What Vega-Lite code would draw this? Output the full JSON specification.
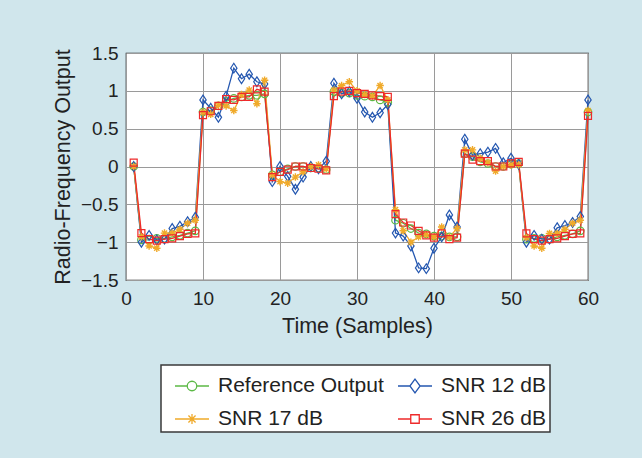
{
  "$schema": "https://vega.github.io/schema/vega-lite/v6.json",
  "width": 462,
  "height": 227,
  "autosize": "none",
  "padding": {"left": 126, "top": 53, "right": 54, "bottom": 178},
  "background": "#d0e6ec",
  "config": {
    "view": {"fill": "white", "stroke": "#1a1a1a", "strokeWidth": 1.2},
    "font": "Liberation Sans"
  },
  "data": {"values": [
    {"t":1,"s":"Reference Output","v":0.00},{"t":2,"s":"Reference Output","v":-0.97},{"t":3,"s":"Reference Output","v":-0.97},{"t":4,"s":"Reference Output","v":-0.95},{"t":5,"s":"Reference Output","v":-0.95},{"t":6,"s":"Reference Output","v":-0.93},{"t":7,"s":"Reference Output","v":-0.91},{"t":8,"s":"Reference Output","v":-0.88},{"t":9,"s":"Reference Output","v":-0.85},{"t":10,"s":"Reference Output","v":0.72},
    {"t":11,"s":"Reference Output","v":0.74},{"t":12,"s":"Reference Output","v":0.80},{"t":13,"s":"Reference Output","v":0.86},{"t":14,"s":"Reference Output","v":0.90},{"t":15,"s":"Reference Output","v":0.92},{"t":16,"s":"Reference Output","v":0.94},{"t":17,"s":"Reference Output","v":0.94},{"t":18,"s":"Reference Output","v":0.96},{"t":19,"s":"Reference Output","v":-0.11},{"t":20,"s":"Reference Output","v":-0.07},
    {"t":21,"s":"Reference Output","v":-0.03},{"t":22,"s":"Reference Output","v":0.00},{"t":23,"s":"Reference Output","v":0.00},{"t":24,"s":"Reference Output","v":-0.02},{"t":25,"s":"Reference Output","v":-0.02},{"t":26,"s":"Reference Output","v":-0.04},{"t":27,"s":"Reference Output","v":0.99},{"t":28,"s":"Reference Output","v":0.97},{"t":29,"s":"Reference Output","v":0.97},{"t":30,"s":"Reference Output","v":0.94},
    {"t":31,"s":"Reference Output","v":0.93},{"t":32,"s":"Reference Output","v":0.92},{"t":33,"s":"Reference Output","v":0.88},{"t":34,"s":"Reference Output","v":0.85},{"t":35,"s":"Reference Output","v":-0.71},{"t":36,"s":"Reference Output","v":-0.75},{"t":37,"s":"Reference Output","v":-0.82},{"t":38,"s":"Reference Output","v":-0.88},{"t":39,"s":"Reference Output","v":-0.89},{"t":40,"s":"Reference Output","v":-0.92},
    {"t":41,"s":"Reference Output","v":-0.92},{"t":42,"s":"Reference Output","v":-0.93},{"t":43,"s":"Reference Output","v":-0.93},{"t":44,"s":"Reference Output","v":0.17},{"t":45,"s":"Reference Output","v":0.13},{"t":46,"s":"Reference Output","v":0.06},{"t":47,"s":"Reference Output","v":0.04},{"t":48,"s":"Reference Output","v":0.00},{"t":49,"s":"Reference Output","v":0.00},{"t":50,"s":"Reference Output","v":0.03},
    {"t":51,"s":"Reference Output","v":0.04},{"t":52,"s":"Reference Output","v":-0.96},{"t":53,"s":"Reference Output","v":-0.95},{"t":54,"s":"Reference Output","v":-0.95},{"t":55,"s":"Reference Output","v":-0.96},{"t":56,"s":"Reference Output","v":-0.93},{"t":57,"s":"Reference Output","v":-0.91},{"t":58,"s":"Reference Output","v":-0.89},{"t":59,"s":"Reference Output","v":-0.85},{"t":60,"s":"Reference Output","v":0.72},

    {"t":1,"s":"SNR 12 dB","v":0.00},{"t":2,"s":"SNR 12 dB","v":-1.00},{"t":3,"s":"SNR 12 dB","v":-0.91},{"t":4,"s":"SNR 12 dB","v":-0.97},{"t":5,"s":"SNR 12 dB","v":-0.96},{"t":6,"s":"SNR 12 dB","v":-0.82},{"t":7,"s":"SNR 12 dB","v":-0.79},{"t":8,"s":"SNR 12 dB","v":-0.73},{"t":9,"s":"SNR 12 dB","v":-0.67},{"t":10,"s":"SNR 12 dB","v":0.88},
    {"t":11,"s":"SNR 12 dB","v":0.77},{"t":12,"s":"SNR 12 dB","v":0.65},{"t":13,"s":"SNR 12 dB","v":0.93},{"t":14,"s":"SNR 12 dB","v":1.30},{"t":15,"s":"SNR 12 dB","v":1.16},{"t":16,"s":"SNR 12 dB","v":1.22},{"t":17,"s":"SNR 12 dB","v":1.12},{"t":18,"s":"SNR 12 dB","v":1.09},{"t":19,"s":"SNR 12 dB","v":-0.20},{"t":20,"s":"SNR 12 dB","v":0.00},
    {"t":21,"s":"SNR 12 dB","v":-0.13},{"t":22,"s":"SNR 12 dB","v":-0.30},{"t":23,"s":"SNR 12 dB","v":-0.14},{"t":24,"s":"SNR 12 dB","v":0.00},{"t":25,"s":"SNR 12 dB","v":-0.03},{"t":26,"s":"SNR 12 dB","v":0.07},{"t":27,"s":"SNR 12 dB","v":1.10},{"t":28,"s":"SNR 12 dB","v":0.96},{"t":29,"s":"SNR 12 dB","v":0.99},{"t":30,"s":"SNR 12 dB","v":0.90},
    {"t":31,"s":"SNR 12 dB","v":0.72},{"t":32,"s":"SNR 12 dB","v":0.65},{"t":33,"s":"SNR 12 dB","v":0.71},{"t":34,"s":"SNR 12 dB","v":0.82},{"t":35,"s":"SNR 12 dB","v":-0.88},{"t":36,"s":"SNR 12 dB","v":-0.92},{"t":37,"s":"SNR 12 dB","v":-1.05},{"t":38,"s":"SNR 12 dB","v":-1.34},{"t":39,"s":"SNR 12 dB","v":-1.35},{"t":40,"s":"SNR 12 dB","v":-1.08},
    {"t":41,"s":"SNR 12 dB","v":-0.93},{"t":42,"s":"SNR 12 dB","v":-0.64},{"t":43,"s":"SNR 12 dB","v":-0.80},{"t":44,"s":"SNR 12 dB","v":0.36},{"t":45,"s":"SNR 12 dB","v":0.15},{"t":46,"s":"SNR 12 dB","v":0.17},{"t":47,"s":"SNR 12 dB","v":0.19},{"t":48,"s":"SNR 12 dB","v":0.24},{"t":49,"s":"SNR 12 dB","v":0.05},{"t":50,"s":"SNR 12 dB","v":0.11},
    {"t":51,"s":"SNR 12 dB","v":0.03},{"t":52,"s":"SNR 12 dB","v":-1.00},{"t":53,"s":"SNR 12 dB","v":-0.91},{"t":54,"s":"SNR 12 dB","v":-0.96},{"t":55,"s":"SNR 12 dB","v":-0.96},{"t":56,"s":"SNR 12 dB","v":-0.81},{"t":57,"s":"SNR 12 dB","v":-0.78},{"t":58,"s":"SNR 12 dB","v":-0.74},{"t":59,"s":"SNR 12 dB","v":-0.66},{"t":60,"s":"SNR 12 dB","v":0.88},

    {"t":1,"s":"SNR 17 dB","v":0.00},{"t":2,"s":"SNR 17 dB","v":-0.93},{"t":3,"s":"SNR 17 dB","v":-1.05},{"t":4,"s":"SNR 17 dB","v":-1.08},{"t":5,"s":"SNR 17 dB","v":-0.88},{"t":6,"s":"SNR 17 dB","v":-0.88},{"t":7,"s":"SNR 17 dB","v":-0.83},{"t":8,"s":"SNR 17 dB","v":-0.75},{"t":9,"s":"SNR 17 dB","v":-0.71},{"t":10,"s":"SNR 17 dB","v":0.72},
    {"t":11,"s":"SNR 17 dB","v":0.69},{"t":12,"s":"SNR 17 dB","v":0.81},{"t":13,"s":"SNR 17 dB","v":0.80},{"t":14,"s":"SNR 17 dB","v":0.74},{"t":15,"s":"SNR 17 dB","v":0.95},{"t":16,"s":"SNR 17 dB","v":1.01},{"t":17,"s":"SNR 17 dB","v":0.83},{"t":18,"s":"SNR 17 dB","v":1.14},{"t":19,"s":"SNR 17 dB","v":-0.11},{"t":20,"s":"SNR 17 dB","v":-0.20},
    {"t":21,"s":"SNR 17 dB","v":-0.22},{"t":22,"s":"SNR 17 dB","v":-0.14},{"t":23,"s":"SNR 17 dB","v":-0.07},{"t":24,"s":"SNR 17 dB","v":0.00},{"t":25,"s":"SNR 17 dB","v":0.02},{"t":26,"s":"SNR 17 dB","v":-0.03},{"t":27,"s":"SNR 17 dB","v":1.01},{"t":28,"s":"SNR 17 dB","v":1.07},{"t":29,"s":"SNR 17 dB","v":1.12},{"t":30,"s":"SNR 17 dB","v":1.00},
    {"t":31,"s":"SNR 17 dB","v":0.95},{"t":32,"s":"SNR 17 dB","v":0.93},{"t":33,"s":"SNR 17 dB","v":1.07},{"t":34,"s":"SNR 17 dB","v":0.88},{"t":35,"s":"SNR 17 dB","v":-0.57},{"t":36,"s":"SNR 17 dB","v":-0.85},{"t":37,"s":"SNR 17 dB","v":-1.00},{"t":38,"s":"SNR 17 dB","v":-0.93},{"t":39,"s":"SNR 17 dB","v":-0.90},{"t":40,"s":"SNR 17 dB","v":-0.93},
    {"t":41,"s":"SNR 17 dB","v":-0.80},{"t":42,"s":"SNR 17 dB","v":-0.93},{"t":43,"s":"SNR 17 dB","v":-0.82},{"t":44,"s":"SNR 17 dB","v":0.22},{"t":45,"s":"SNR 17 dB","v":0.22},{"t":46,"s":"SNR 17 dB","v":0.11},{"t":47,"s":"SNR 17 dB","v":0.05},{"t":48,"s":"SNR 17 dB","v":-0.06},{"t":49,"s":"SNR 17 dB","v":0.00},{"t":50,"s":"SNR 17 dB","v":0.02},
    {"t":51,"s":"SNR 17 dB","v":0.02},{"t":52,"s":"SNR 17 dB","v":-0.94},{"t":53,"s":"SNR 17 dB","v":-1.05},{"t":54,"s":"SNR 17 dB","v":-1.08},{"t":55,"s":"SNR 17 dB","v":-0.885},{"t":56,"s":"SNR 17 dB","v":-0.885},{"t":57,"s":"SNR 17 dB","v":-0.83},{"t":58,"s":"SNR 17 dB","v":-0.75},{"t":59,"s":"SNR 17 dB","v":-0.71},{"t":60,"s":"SNR 17 dB","v":0.74},

    {"t":1,"s":"SNR 26 dB","v":0.05},{"t":2,"s":"SNR 26 dB","v":-0.88},{"t":3,"s":"SNR 26 dB","v":-0.96},{"t":4,"s":"SNR 26 dB","v":-0.98},{"t":5,"s":"SNR 26 dB","v":-0.96},{"t":6,"s":"SNR 26 dB","v":-0.95},{"t":7,"s":"SNR 26 dB","v":-0.92},{"t":8,"s":"SNR 26 dB","v":-0.89},{"t":9,"s":"SNR 26 dB","v":-0.885},{"t":10,"s":"SNR 26 dB","v":0.68},
    {"t":11,"s":"SNR 26 dB","v":0.73},{"t":12,"s":"SNR 26 dB","v":0.80},{"t":13,"s":"SNR 26 dB","v":0.89},{"t":14,"s":"SNR 26 dB","v":0.88},{"t":15,"s":"SNR 26 dB","v":0.92},{"t":16,"s":"SNR 26 dB","v":0.92},{"t":17,"s":"SNR 26 dB","v":1.02},{"t":18,"s":"SNR 26 dB","v":0.99},{"t":19,"s":"SNR 26 dB","v":-0.14},{"t":20,"s":"SNR 26 dB","v":-0.07},
    {"t":21,"s":"SNR 26 dB","v":-0.04},{"t":22,"s":"SNR 26 dB","v":0.00},{"t":23,"s":"SNR 26 dB","v":0.00},{"t":24,"s":"SNR 26 dB","v":-0.02},{"t":25,"s":"SNR 26 dB","v":-0.03},{"t":26,"s":"SNR 26 dB","v":-0.05},{"t":27,"s":"SNR 26 dB","v":0.93},{"t":28,"s":"SNR 26 dB","v":0.99},{"t":29,"s":"SNR 26 dB","v":1.00},{"t":30,"s":"SNR 26 dB","v":0.97},
    {"t":31,"s":"SNR 26 dB","v":0.96},{"t":32,"s":"SNR 26 dB","v":0.94},{"t":33,"s":"SNR 26 dB","v":0.93},{"t":34,"s":"SNR 26 dB","v":0.92},{"t":35,"s":"SNR 26 dB","v":-0.63},{"t":36,"s":"SNR 26 dB","v":-0.74},{"t":37,"s":"SNR 26 dB","v":-0.78},{"t":38,"s":"SNR 26 dB","v":-0.85},{"t":39,"s":"SNR 26 dB","v":-0.91},{"t":40,"s":"SNR 26 dB","v":-0.94},
    {"t":41,"s":"SNR 26 dB","v":-0.885},{"t":42,"s":"SNR 26 dB","v":-0.96},{"t":43,"s":"SNR 26 dB","v":-0.94},{"t":44,"s":"SNR 26 dB","v":0.17},{"t":45,"s":"SNR 26 dB","v":0.09},{"t":46,"s":"SNR 26 dB","v":0.07},{"t":47,"s":"SNR 26 dB","v":0.07},{"t":48,"s":"SNR 26 dB","v":0.00},{"t":49,"s":"SNR 26 dB","v":0.00},{"t":50,"s":"SNR 26 dB","v":0.04},
    {"t":51,"s":"SNR 26 dB","v":0.06},{"t":52,"s":"SNR 26 dB","v":-0.885},{"t":53,"s":"SNR 26 dB","v":-0.96},{"t":54,"s":"SNR 26 dB","v":-0.98},{"t":55,"s":"SNR 26 dB","v":-0.96},{"t":56,"s":"SNR 26 dB","v":-0.95},{"t":57,"s":"SNR 26 dB","v":-0.92},{"t":58,"s":"SNR 26 dB","v":-0.89},{"t":59,"s":"SNR 26 dB","v":-0.885},{"t":60,"s":"SNR 26 dB","v":0.67}
  ]},
  "encoding": {
    "x": {
      "field": "t", "type": "quantitative",
      "scale": {"domain": [0, 60], "nice": false, "zero": false},
      "axis": {
        "values": [0, 10, 20, 30, 40, 50, 60],
        "title": "Time (Samples)",
        "grid": true, "gridColor": "#9a9a9a", "gridWidth": 1, "gridOpacity": 1,
        "domain": false, "ticks": false,
        "labelFontSize": 19, "labelColor": "#222", "labelPadding": 9, "labelFlush": false,
        "titleFontSize": 21.5, "titleFontWeight": "normal", "titleColor": "#222", "titlePadding": 7
      }
    },
    "y": {
      "field": "v", "type": "quantitative",
      "scale": {"domain": [-1.5, 1.5], "nice": false, "zero": false},
      "axis": {
        "values": [-1.5, -1, -0.5, 0, 0.5, 1, 1.5],
        "format": "~g",
        "title": "Radio-Frequency Output",
        "grid": true, "gridColor": "#9a9a9a", "gridWidth": 1, "gridOpacity": 1,
        "domain": false, "ticks": false,
        "labelFontSize": 19, "labelColor": "#222", "labelPadding": 8, "labelFlush": false,
        "titleFontSize": 21.5, "titleFontWeight": "normal", "titleColor": "#222", "titlePadding": 6
      }
    },
    "color": {
      "field": "s", "type": "nominal",
      "scale": {
        "domain": ["Reference Output", "SNR 12 dB", "SNR 17 dB", "SNR 26 dB"],
        "range": ["#5cb946", "#2457b0", "#f0aa2a", "#ee2a2a"]
      },
      "legend": {
        "orient": "none", "legendX": 35, "legendY": 312,
        "columns": 2, "direction": "horizontal", "title": null,
        "padding": 3, "symbolOffset": 10, "labelOffset": 8,
        "columnPadding": 3, "rowPadding": 5, "labelLimit": 400,
        "symbolSize": 1156, "symbolStrokeWidth": 1.3, "symbolType": "circle",
        "labelFontSize": 21, "labelColor": "#222", "labelFont": "Liberation Sans",
        "fillColor": "white", "strokeColor": "#3a3a3a",
        "encode": {
          "legend": {"update": {"strokeWidth": {"value": 1.5}}},
          "symbols": {"update": {
            "fill": {"value": "transparent"},
            "size": {"value": 1156},
            "shape": {"signal": "datum.value === 'Reference Output' ? 'M-1,0H-0.28M0.28,0H1M0.28,0A0.28,0.28 0 1,1 -0.28,0A0.28,0.28 0 1,1 0.28,0Z' : datum.value === 'SNR 12 dB' ? 'M-1,0H-0.3M0.3,0H1M0,-0.4L0.3,0L0,0.4L-0.3,0Z' : datum.value === 'SNR 17 dB' ? 'M-1,0H1M0,-0.3V0.3M-0.21,-0.21L0.21,0.21M-0.21,0.21L0.21,-0.21' : 'M-1,0H-0.25M0.25,0H1M-0.25,-0.25H0.25V0.25H-0.25Z'"}
          }}
        }
      }
    }
  },
  "layer": [
    {"mark": {"type": "line", "strokeWidth": 1.3}},
    {
      "transform": [{"filter": "datum.s === 'Reference Output'"}],
      "mark": {"type": "point", "filled": false, "size": 56, "strokeWidth": 1.2, "opacity": 1, "shape": "M1,0A1,1 0 1,1 -1,0A1,1 0 1,1 1,0Z"}
    },
    {
      "transform": [{"filter": "datum.s === 'SNR 12 dB'"}],
      "mark": {"type": "point", "filled": false, "size": 56, "strokeWidth": 1.2, "opacity": 1, "shape": "M0,-1.3L0.85,0L0,1.3L-0.85,0Z"}
    },
    {
      "transform": [{"filter": "datum.s === 'SNR 17 dB'"}],
      "mark": {"type": "point", "filled": false, "size": 56, "strokeWidth": 1.4, "opacity": 1, "shape": "M0,-1V1M-1,0H1M-0.7,-0.7L0.7,0.7M-0.7,0.7L0.7,-0.7"}
    },
    {
      "transform": [{"filter": "datum.s === 'SNR 26 dB'"}],
      "mark": {"type": "point", "filled": false, "size": 49, "strokeWidth": 1.2, "opacity": 1, "shape": "M-1,-1H1V1H-1Z"}
    }
  ]
}
